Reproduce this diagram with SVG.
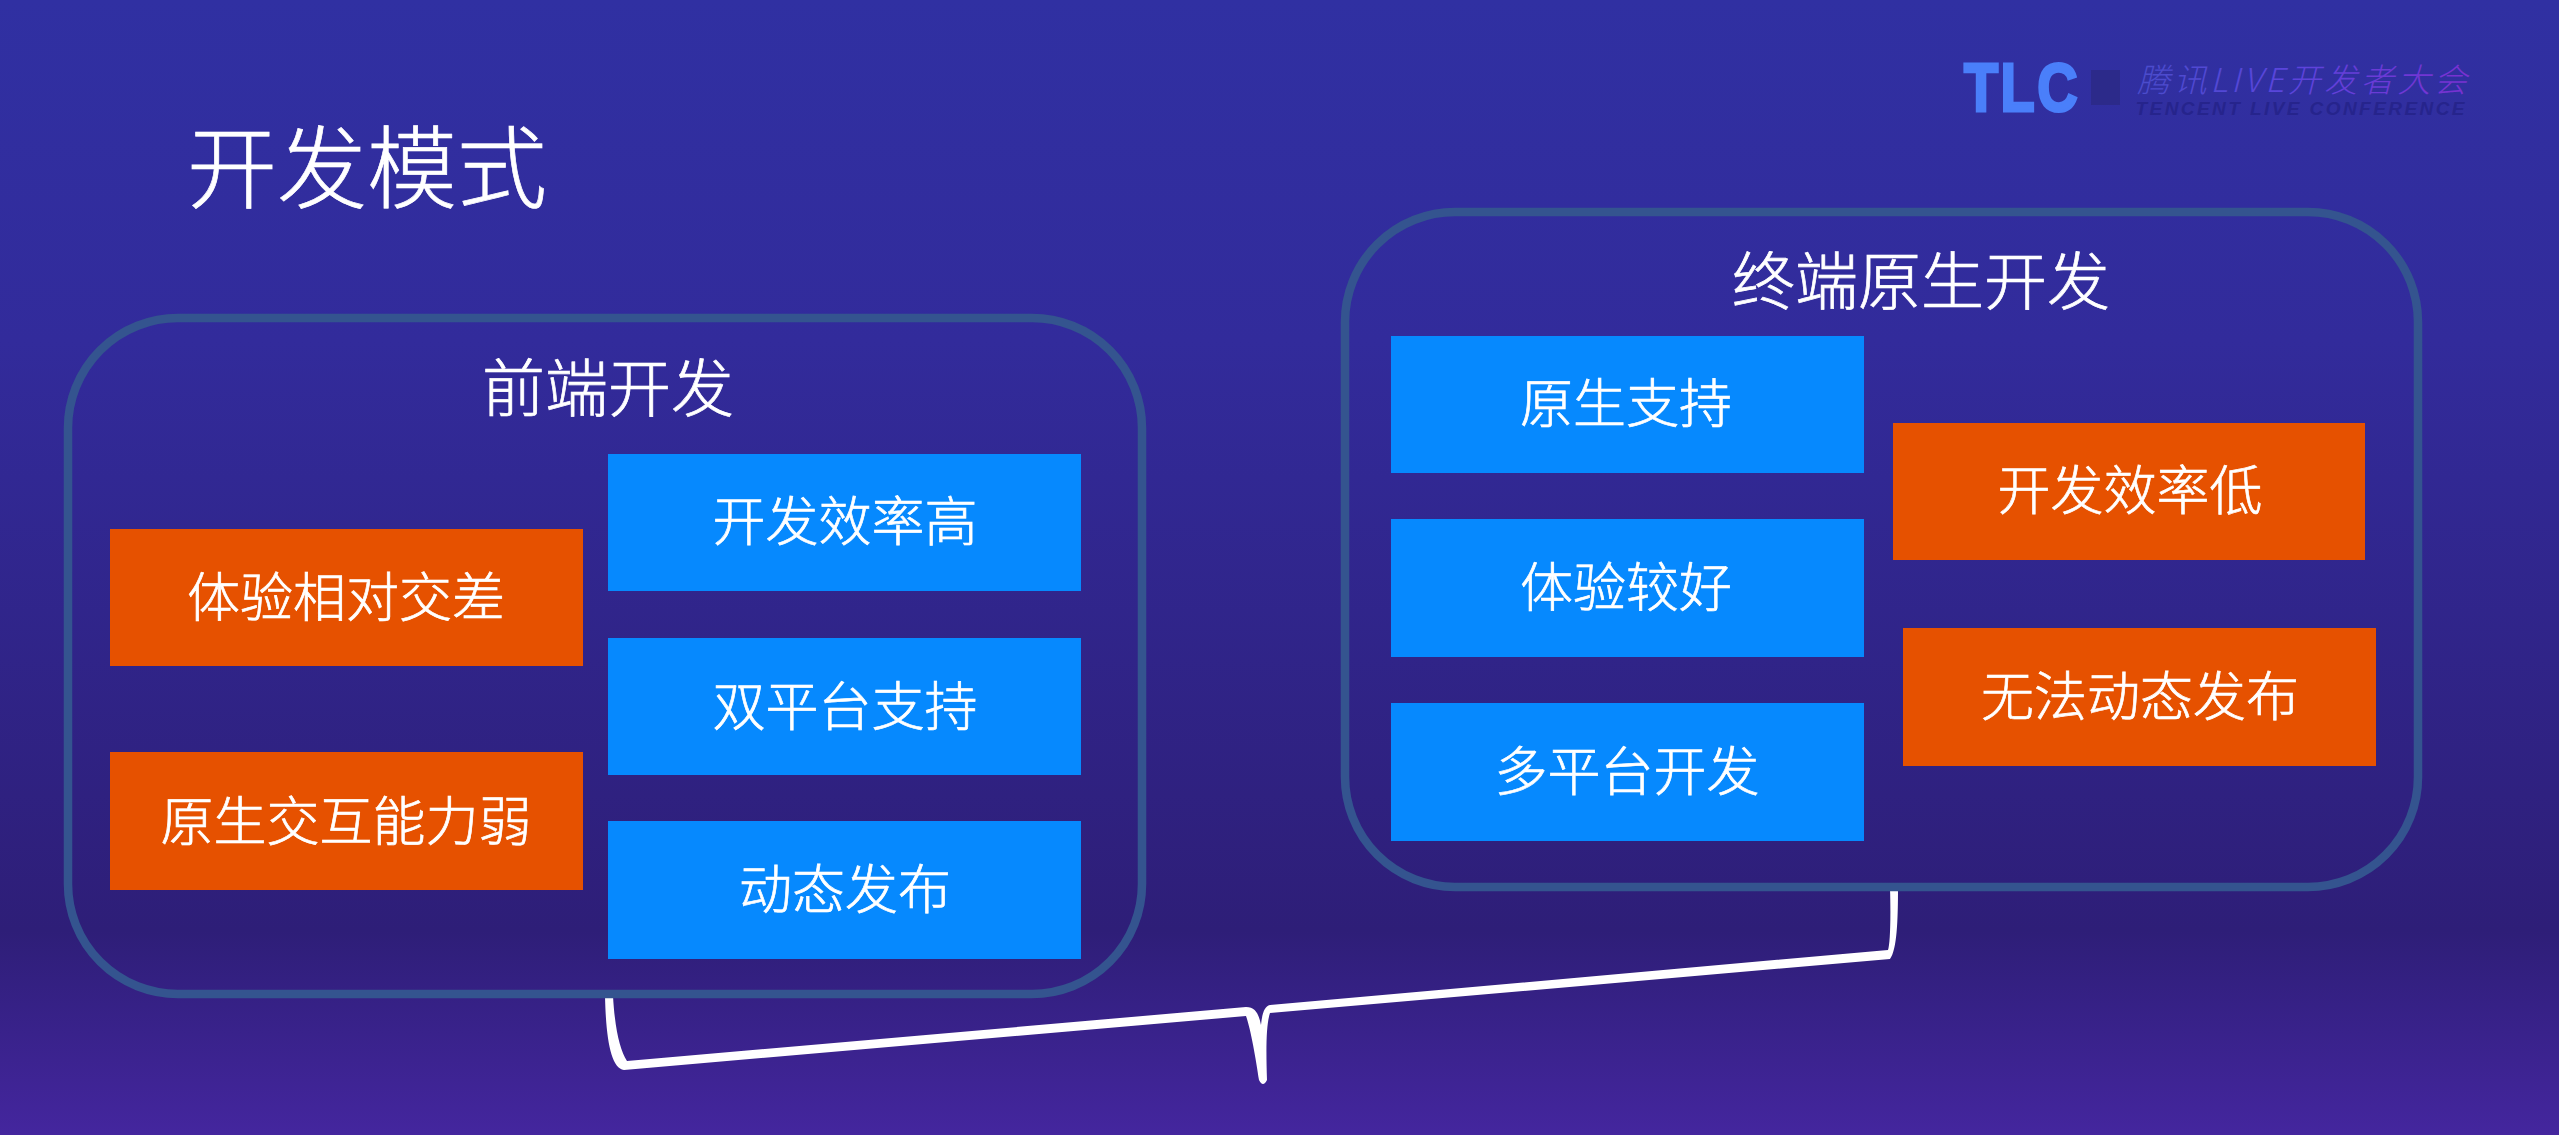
<svg xmlns="http://www.w3.org/2000/svg" width="2559" height="1135" viewBox="0 0 2559 1135">
<defs>
<linearGradient id="bg" x1="0" y1="0" x2="0" y2="1">
<stop offset="0" stop-color="#3030a2"/><stop offset="0.3" stop-color="#322b9b"/><stop offset="0.82" stop-color="#2e1e78"/><stop offset="1" stop-color="#44269e"/>
</linearGradient>
<linearGradient id="logo" x1="0" y1="0" x2="1" y2="0">
<stop offset="0" stop-color="#4a4ccb"/><stop offset="0.45" stop-color="#5a45dc"/><stop offset="1" stop-color="#7a30d0"/>
</linearGradient>
</defs>
<style>
text{font-family:"Noto Sans CJK SC","Noto Sans",sans-serif;fill:#fff;text-anchor:middle;font-weight:300;stroke:#fff;stroke-width:0.7}
.panel{fill:none;stroke:#34548f;stroke-width:8.5}
.pro{fill:#0689fe}
.con{fill:#e65100}
.label{font-size:53px}
.head{font-size:63px}
.brace{fill:#fff}
</style>
<rect width="2559" height="1135" fill="url(#bg)"/>
<g id="logo-mark">
<text x="2022" y="111" style="font-family:'Liberation Sans',sans-serif;font-weight:700;font-size:68px;fill:#4a7ffa;stroke:#4a7ffa;stroke-width:3;letter-spacing:3px" textLength="116" lengthAdjust="spacingAndGlyphs">TLC</text>
<rect x="2091" y="70" width="29" height="35" fill="#2c2a8a"/>
<text x="2302" y="92" style="font-size:33px;font-style:italic;fill:url(#logo);stroke:none" textLength="330" lengthAdjust="spacing">腾讯LIVE开发者大会</text>
<text x="2300" y="115" style="font-family:'Liberation Sans',sans-serif;font-weight:700;font-style:italic;font-size:19px;fill:#26248c;stroke:none" textLength="329" lengthAdjust="spacing">TENCENT LIVE CONFERENCE</text>
</g>
<text id="title" x="367" y="201" style="font-size:90px">开发模式</text>
<g id="connectors">
<path class="brace" d="M605 996C606 1040 611 1068 624 1070L1246 1016C1251 1030 1256 1060 1259 1080Q1263 1088 1267 1080C1266 1050 1266 1025 1270 1013L1890 959C1897 950 1898 920 1898 888L1890 888C1891 920 1890 945 1888 950L1270 1005C1264 1006 1262 1015 1261 1025C1259 1015 1256 1007 1246 1007L627 1061C620 1050 615 1030 613 996Z"/>
</g>
<g id="frontend"><rect class="panel" x="68" y="318" width="1074" height="676" rx="110" ry="110"/><text class="head" x="608" y="411">前端开发</text></g>
<g id="native"><rect class="panel" x="1345" y="212" width="1073" height="675" rx="110" ry="110"/><text class="head" x="1921" y="304">终端原生开发</text></g>
<g id="f1"><rect class="pro" x="608" y="454" width="473" height="137"/><text class="label" x="845" y="541">开发效率高</text></g>
<g id="f2"><rect class="pro" x="608" y="638" width="473" height="137"/><text class="label" x="845" y="726">双平台支持</text></g>
<g id="f3"><rect class="pro" x="608" y="821" width="473" height="138"/><text class="label" x="845" y="909">动态发布</text></g>
<g id="f4"><rect class="con" x="110" y="529" width="473" height="137"/><text class="label" x="346" y="617">体验相对交差</text></g>
<g id="f5"><rect class="con" x="110" y="752" width="473" height="138"/><text class="label" x="346" y="841">原生交互能力弱</text></g>
<g id="n1"><rect class="pro" x="1391" y="336" width="473" height="137"/><text class="label" x="1626" y="423">原生支持</text></g>
<g id="n2"><rect class="pro" x="1391" y="519" width="473" height="138"/><text class="label" x="1626" y="607">体验较好</text></g>
<g id="n3"><rect class="pro" x="1391" y="703" width="473" height="138"/><text class="label" x="1627" y="791">多平台开发</text></g>
<g id="n4"><rect class="con" x="1893" y="423" width="472" height="137"/><text class="label" x="2130" y="510">开发效率低</text></g>
<g id="n5"><rect class="con" x="1903" y="628" width="473" height="138"/><text class="label" x="2140" y="716">无法动态发布</text></g>
</svg>
